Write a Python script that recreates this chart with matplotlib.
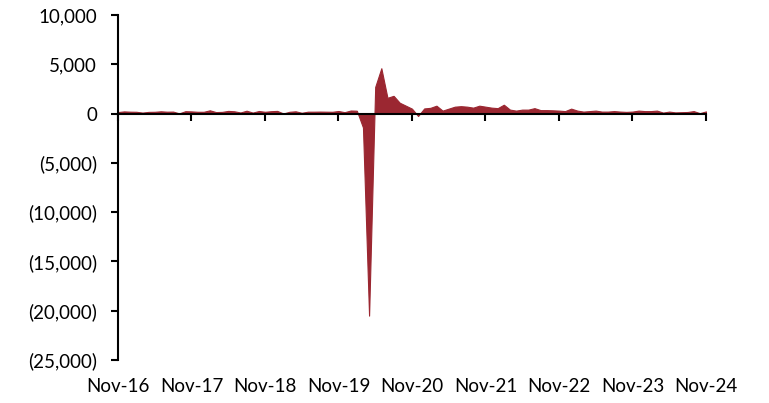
import matplotlib
matplotlib.use("Agg")
import matplotlib.pyplot as plt
import matplotlib.ticker as mticker
import numpy as np

# monthly change, thousands, Nov 2016 - Nov 2024
changes_2016 = [150, 220]
changes_2017 = [190, 180, 100, 170, 180, 230, 190, 200, 20, 240, 220, 180]
changes_2018 = [180, 330, 150, 170, 270, 230, 110, 290, 100, 260, 180, 240]
changes_2019 = [270, 10, 180, 230, 80, 190, 190, 200, 190, 180, 260, 140]
changes_2020 = [310, 290, -1400, -20500, 2700, 4600, 1600, 1800, 1100, 800, 500, -250]
changes_2021 = [520, 580, 800, 300, 500, 700, 750, 700, 600, 800, 700, 600]
changes_2022 = [550, 900, 400, 300, 400, 400, 550, 350, 350, 330, 300, 250]
changes_2023 = [500, 300, 200, 250, 300, 200, 200, 250, 200, 170, 200, 300]
changes_2024 = [250, 250, 300, 100, 200, 120, 140, 160, 250, 40, 220]

values = np.array(changes_2016 + changes_2017 + changes_2018 + changes_2019 + changes_2020
                  + changes_2021 + changes_2022 + changes_2023 + changes_2024)
months = np.arange(len(values))

tick_pos = np.arange(0, len(values), 12)
tick_labels = ["Nov-16", "Nov-17", "Nov-18", "Nov-19", "Nov-20",
               "Nov-21", "Nov-22", "Nov-23", "Nov-24"]

plt.rcParams['font.family'] = ['Lato', 'DejaVu Sans']

fig = plt.figure(figsize=(7.69, 4.03), dpi=100)
ax = fig.add_axes([0.1534, 0.1067, 0.7646, 0.8561])

ax.fill_between(months, values, 0, color='#9B2731', linewidth=0.8, edgecolor='#9B2731')

ax.set_xlim(0, len(values) - 1)
ax.set_ylim(-25000, 10000)
ax.set_yticks(np.arange(-25000, 10001, 5000))

def paren_fmt(v, pos):
    if v < 0:
        return "({:,.0f})".format(-v)
    return "{:,.0f}".format(v)

ax.yaxis.set_major_formatter(mticker.FuncFormatter(paren_fmt))

for s in ['top', 'right']:
    ax.spines[s].set_visible(False)
ax.spines['bottom'].set_position(('data', 0))
ax.spines['left'].set_linewidth(1.5)
ax.spines['bottom'].set_linewidth(1.5)

ax.set_xticks(tick_pos)
ax.tick_params(axis='x', direction='out', length=5, width=1.5, labelbottom=False)
ax.tick_params(axis='y', direction='out', length=5, width=1.5, labelsize=13.5, pad=10)

sec = ax.secondary_xaxis('bottom')
sec.set_xticks(tick_pos)
sec.set_xticklabels(tick_labels)
sec.spines['bottom'].set_visible(False)
sec.tick_params(length=0, labelsize=13.5, pad=13)

fig.savefig("out.png", dpi=100)
